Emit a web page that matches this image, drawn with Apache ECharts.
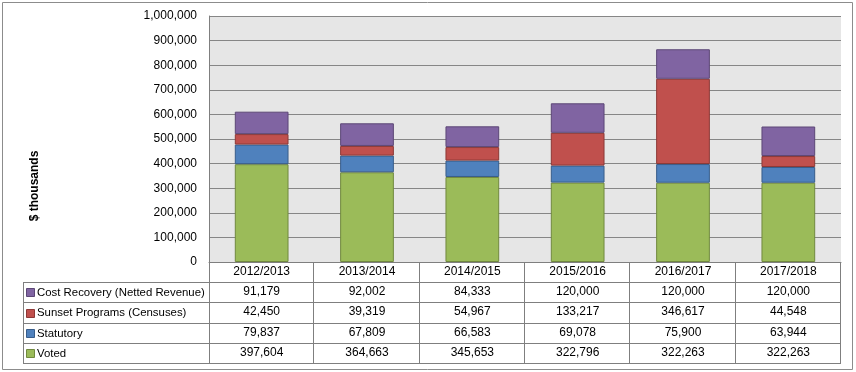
<!DOCTYPE html>
<html>
<head>
<meta charset="utf-8">
<script src="https://cdn.jsdelivr.net/npm/echarts@6/dist/echarts.min.js"></script>
<style>
html,body{margin:0;padding:0;background:#fff;}
#c{width:856px;height:372px;}
</style>
</head>
<body>
<div id="c"></div>
<script>
const categories = ['2012/2013', '2013/2014', '2014/2015', '2015/2016', '2016/2017', '2017/2018'];
const voted = [397604, 364663, 345653, 322796, 322263, 322263];
const statutory = [79837, 67809, 66583, 69078, 75900, 63944];
const sunset = [42450, 39319, 54967, 133217, 346617, 44548];
const costRecovery = [91179, 92002, 84333, 120000, 120000, 120000];
const seriesNames = ['Cost Recovery (Netted Revenue)', 'Sunset Programs (Censuses)', 'Statutory', 'Voted'];
const seriesColors = ['#8064A2', '#C0504D', '#4F81BD', '#9BBB59'];
const seriesBorders = ['#5C4776', '#8C3836', '#385D8A', '#71893F'];
const yMin = 0, yMax = 1000000, yInterval = 100000;
const yAxisTitle = '$ thousands';

const FONT = 'Liberation Sans';
const fmt = v => v.toLocaleString('en-US');

const G = { left: 209, right: 856 - 841, top: 16, bottom: 372 - 262 };
const rowTops = [282, 302, 323, 343];
const tableBottom = 363;
const tableLeft = 23;
const plotLeft = 209, plotRight = 841, axisY = 262;

const rows = [costRecovery, sunset, statutory, voted];

const xAxes = [{
  type: 'category', data: categories, gridIndex: 0, position: 'bottom',
  axisLine: { show: true, lineStyle: { color: '#7f7f7f', width: 1 } },
  axisTick: { show: false },
  axisLabel: { color: '#000', fontFamily: FONT, fontSize: 12, margin: 10, verticalAlign: 'middle' }
}];
rows.forEach((arr, i) => {
  xAxes.push({
    type: 'category', data: arr.map(fmt), gridIndex: 0, position: 'bottom',
    offset: rowTops[i] - axisY,
    axisLine: { show: false }, axisTick: { show: false },
    axisLabel: { color: '#000', fontFamily: FONT, fontSize: 12, margin: 10, verticalAlign: 'middle', interval: 0 }
  });
});

const stackOrder = [3, 2, 1, 0]; // bottom to top: Voted, Statutory, Sunset, Cost Recovery
const series = stackOrder.map(i => ({
  name: seriesNames[i], type: 'bar', stack: 'total', xAxisIndex: 0,
  data: rows[i], barWidth: '51%',
  itemStyle: { color: seriesColors[i], borderColor: seriesBorders[i], borderWidth: 1 },
  emphasis: { disabled: true }
}));

const chart = echarts.init(document.getElementById('c'), null, { renderer: 'canvas' });
chart.setOption({
  animation: false,
  backgroundColor: '#fff',
  grid: { left: G.left, right: G.right, top: G.top, bottom: G.bottom, show: true, backgroundColor: '#e6e6e6', borderWidth: 0 },
  xAxis: xAxes,
  yAxis: {
    type: 'value', min: yMin, max: yMax, interval: yInterval,
    axisLine: { show: true, lineStyle: { color: '#7f7f7f' } },
    axisTick: { show: false },
    splitLine: { lineStyle: { color: '#868686', width: 1 } },
    axisLabel: { color: '#000', fontFamily: FONT, fontSize: 12, margin: 12, formatter: v => fmt(v) }
  },
  series: series
});

// table lines & legend keys
const gfx = [];
const lineStyle = { stroke: '#7f7f7f', lineWidth: 1 };
const L = (x1, y1, x2, y2) => gfx.push({ type: 'line', silent: true, shape: { x1, y1, x2, y2 }, style: lineStyle });
// outer border
gfx.push({ type: 'rect', silent: true, shape: { x: 2.5, y: 2.5, width: 850, height: 367 }, style: { fill: null, stroke: '#8c8c8c', lineWidth: 1 } });
// horizontal lines
L(plotLeft, 282.5, plotRight, 282.5);
L(tableLeft, 282.5, plotLeft, 282.5);
[302.5, 323.5, 343.5, 363.5].forEach(y => L(tableLeft, y, plotRight, y));
// vertical lines
L(tableLeft + 0.5, 282, tableLeft + 0.5, tableBottom + 1);
L(plotLeft + 0.5, axisY, plotLeft + 0.5, tableBottom + 1);
const bandW = (plotRight - plotLeft) / categories.length;
for (let k = 1; k <= categories.length; k++) {
  const x = Math.round(plotLeft + bandW * k) - 0.5;
  L(x, axisY, x, tableBottom + 1);
}
// legend keys + names
rows.forEach((arr, i) => {
  const yc = (rowTops[i] + (rowTops[i + 1] || tableBottom)) / 2;
  gfx.push({ type: 'rect', silent: true, shape: { x: 26.5, y: Math.round(yc - 4) + 0.5, width: 8, height: 8 }, style: { fill: seriesColors[i], stroke: seriesBorders[i], lineWidth: 1 } });
  gfx.push({ type: 'text', silent: true, x: 37, y: yc + 0.5, style: { text: seriesNames[i], fill: '#000', font: '11.4px ' + FONT, verticalAlign: 'middle', align: 'left' } });
});
// y axis title
gfx.push({ type: 'text', silent: true, x: 35, y: 186, rotation: Math.PI / 2, style: { text: yAxisTitle, fill: '#000', font: 'bold 12px ' + FONT, align: 'center', verticalAlign: 'middle' } });
chart.setOption({ graphic: gfx });
</script>
</body>
</html>
